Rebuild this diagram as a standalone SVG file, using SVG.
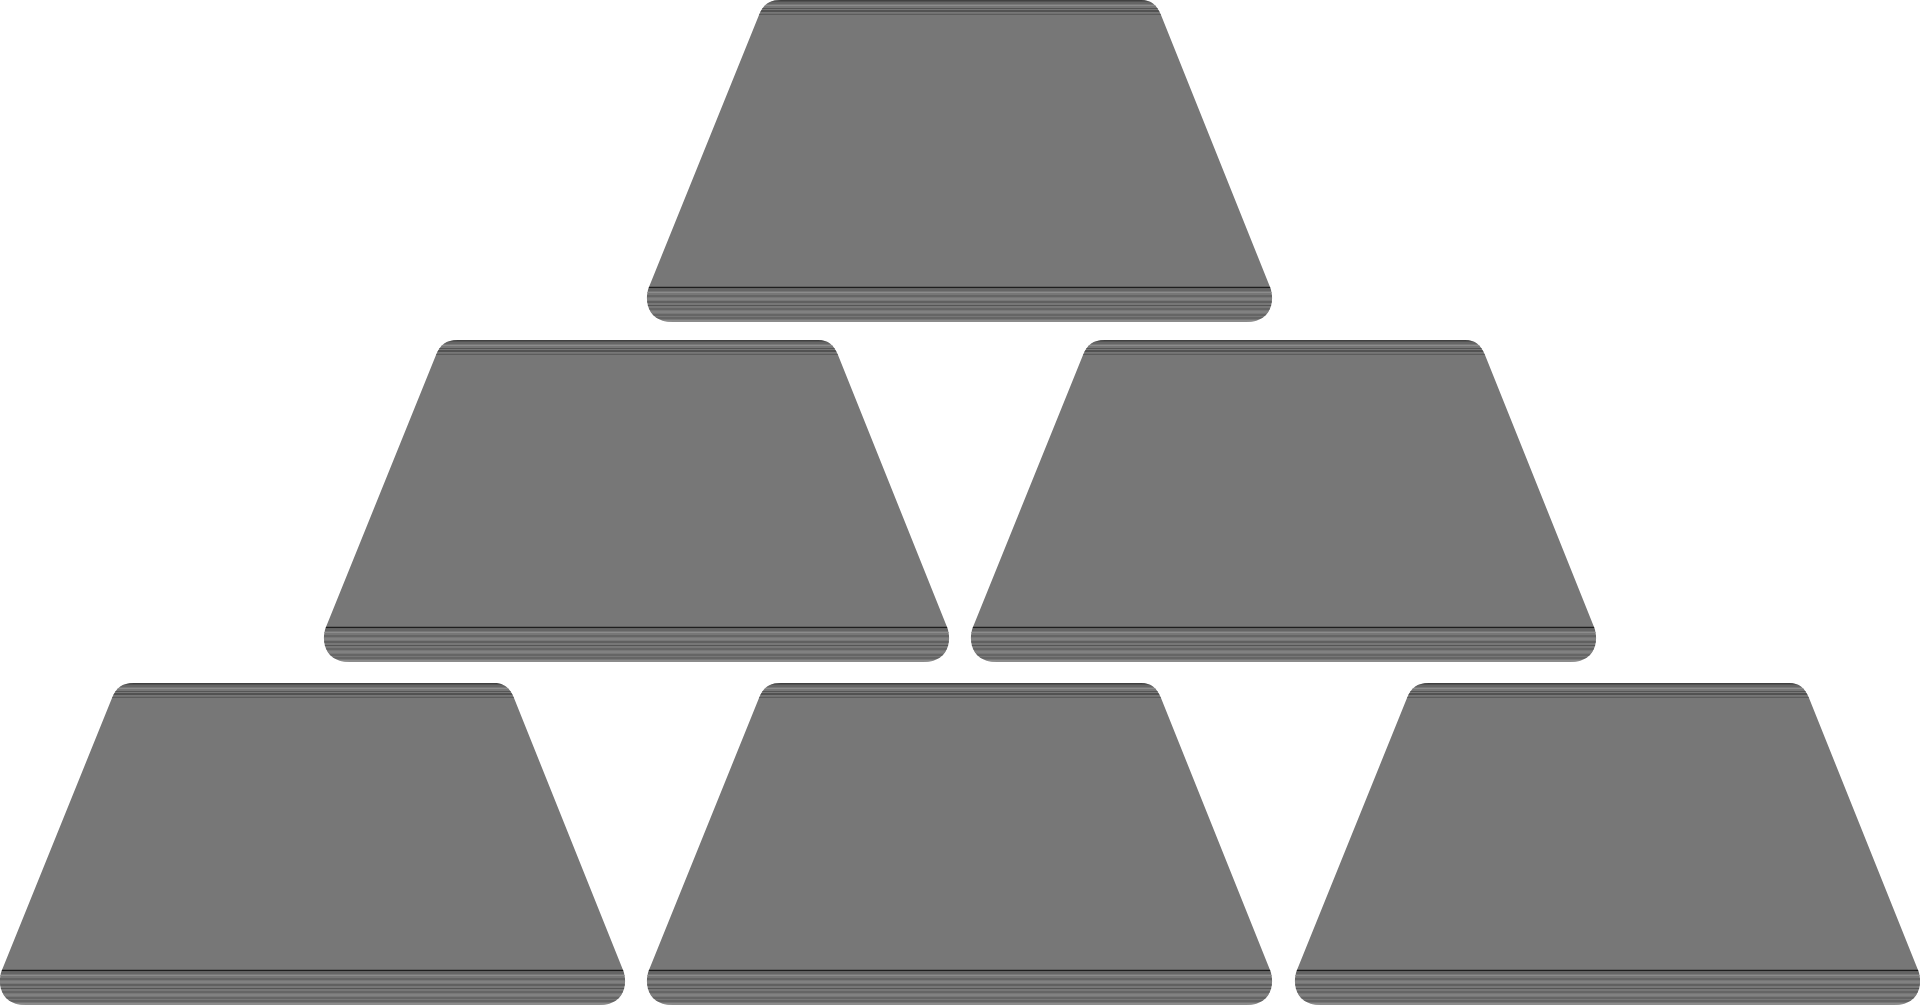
<svg xmlns="http://www.w3.org/2000/svg" xmlns:xlink="http://www.w3.org/1999/xlink" width="1920" height="1005" viewBox="0 0 1920 1005">
<style>
.body{fill:#777777}
.dk{stroke:#2e2e2e;stroke-width:1.2}
.md{stroke:#555555;stroke-width:1}
.lt{stroke:#8c8c8c;stroke-width:1}
</style>
<defs>
<path id="barShape" d="M134,0 L494,0 C504,0 510,5 514,15 L623,287 C625,292 626,299 624,306 C621,316 613,322 599,322 L26,322 C12,322 4,316 1,306 C-1,299 0,292 2,287 L112,15 C116,5 122,0 134,0 Z"/>
<clipPath id="barClip"><use xlink:href="#barShape" href="#barShape"/></clipPath>
<g id="bar">
<use class="body" xlink:href="#barShape" href="#barShape"/>
<g clip-path="url(#barClip)">
<line class="dk" x1="0" y1="0.8" x2="625" y2="0.8"/>
<line class="md" x1="0" y1="3" x2="625" y2="3"/>
<line class="lt" x1="0" y1="5.5" x2="625" y2="5.5"/>
<line class="md" x1="0" y1="8.5" x2="625" y2="8.5"/>
<line class="dk" x1="0" y1="11" x2="625" y2="11"/>
<line class="md" x1="0" y1="14.3" x2="625" y2="14.3"/>
<line class="dk" x1="0" y1="287.5" x2="625" y2="287.5" style="stroke-width:1.6;stroke:#1e1e1e"/>
<line class="md" x1="0" y1="290" x2="625" y2="290"/>
<line class="lt" x1="0" y1="292.5" x2="625" y2="292.5"/>
<line class="md" x1="0" y1="296" x2="625" y2="296"/>
<line class="lt" x1="0" y1="299" x2="625" y2="299"/>
<line class="dk" x1="0" y1="302" x2="625" y2="302" style="stroke:#4a4a4a"/>
<line class="md" x1="0" y1="305.5" x2="625" y2="305.5"/>
<line class="md" x1="0" y1="309" x2="625" y2="309"/>
<line class="lt" x1="0" y1="312" x2="625" y2="312"/>
<line class="md" x1="0" y1="315" x2="625" y2="315"/>
<line class="md" x1="0" y1="318" x2="625" y2="318"/>
<line class="lt" x1="0" y1="321" x2="625" y2="321" style="stroke:#a0a0a0"/>
</g>
</g>
</defs>
<g id="bar-top"><use xlink:href="#bar" href="#bar" x="647" y="0"/></g>
<g id="bar-mid-left"><use xlink:href="#bar" href="#bar" x="324" y="340"/></g>
<g id="bar-mid-right"><use xlink:href="#bar" href="#bar" x="971" y="340"/></g>
<g id="bar-bottom-left"><use xlink:href="#bar" href="#bar" x="0" y="683"/></g>
<g id="bar-bottom-center"><use xlink:href="#bar" href="#bar" x="647" y="683"/></g>
<g id="bar-bottom-right"><use xlink:href="#bar" href="#bar" x="1295" y="683"/></g>
<g id="connectors"/>
</svg>
